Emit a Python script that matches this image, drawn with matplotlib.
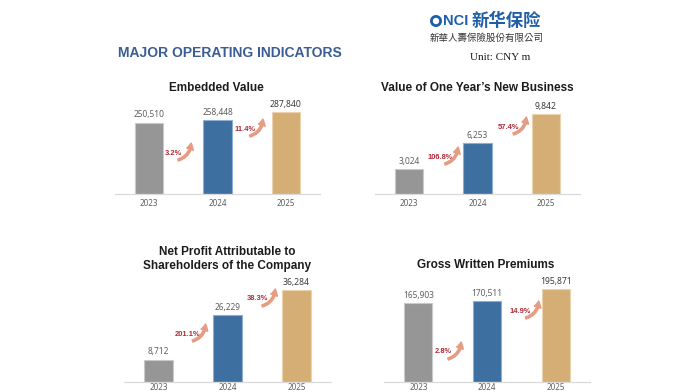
import matplotlib
matplotlib.use("Agg")
import matplotlib.pyplot as plt
from matplotlib.transforms import offset_copy, IdentityTransform
from matplotlib.patches import Circle

# ---------------- data ----------------
years = ["2023", "2024", "2025"]
titles = ["Embedded Value",
          "Value of One Year\u2019s New Business",
          "Net Profit Attributable to\nShareholders of the Company",
          "Gross Written Premiums"]
embedded_value = [250510, 258448, 287840]
vonb = [3024, 6253, 9842]
net_profit = [8712, 26229, 36284]
gwp = [165903, 170511, 195871]
growth_ev = ["3.2%", "11.4%"]
growth_vonb = ["106.8%", "57.4%"]
growth_np = ["201.1%", "38.3%"]
growth_gwp = ["2.8%", "14.9%"]

header = "MAJOR OPERATING INDICATORS"
unit_text = "Unit: CNY m"

# ---------------- layout / style ----------------
W, H = 698, 392
fig = plt.figure(figsize=(W / 100, H / 100), dpi=100)
fig.patch.set_facecolor("white")

def fx(px):
    return px / W

def fy(py):
    return 1 - py / H

bar_colors = ["#969696", "#3D6FA1", "#D4AE74"]
edge_colors = ["#C9C9C9", "#8DAFD0", "#EAD3AE"]
growth_color = "#B02A36"
arrow_color = "#E59C83"
label_font = ["Noto Sans", "DejaVu Sans"]
title_font = ["Liberation Sans", "DejaVu Sans"]

# panel: (values, growth labels, title, left px, right px, baseline px, px of tallest bar,
#         title center (px), growth label positions in (data x, data y), tick pad)
panels = [
    (embedded_value, growth_ev, titles[0], 115, 320, 194, 82, (216, 88),
     [(0.35, 143900), (1.40, 228000)], 3.5),
    (vonb, growth_vonb, titles[1], 375, 580, 194, 80, (477, 88),
     [(0.45, 4550), (1.45, 8240)], 3.5),
    (net_profit, growth_np, titles[2], 124, 331, 382, 92, (227, 259),
     [(0.42, 18930), (1.43, 32740)], 0.8),
    (gwp, growth_gwp, titles[3], 384, 590, 382, 93, (486, 265),
     [(0.36, 63200), (1.49, 149500)], 0.8),
]

axes_height_px = 105

for vals, growths, title, left, right, base, maxpx, tpos, gpos, tpad in panels:
    ax = fig.add_axes([fx(left), fy(base), (right - left) / W, axes_height_px / H])
    scale = max(vals) / maxpx
    ax.set_ylim(0, axes_height_px * scale)
    ax.set_xlim(-0.5, 2.5)
    x = list(range(len(years)))
    ax.bar(x, vals, width=0.41, color=bar_colors, edgecolor=edge_colors,
           linewidth=0.8, zorder=2)
    for i, v in enumerate(vals):
        last = i == len(vals) - 1
        ax.annotate(f"{v:,}", xy=(i, v), xytext=(0, 2.5), textcoords="offset points",
                    ha="center", va="bottom", fontsize=6.2 if last else 6,
                    fontweight="bold" if last else "normal",
                    color="#3A3A3A" if last else "#5E5E5E", family=label_font)
    ax.set_xticks(x)
    ax.set_xticklabels(years, fontsize=5.8, color="#5E5E5E", family=label_font)
    ax.tick_params(axis="x", length=0, pad=tpad)
    ax.set_yticks([])
    for s in ["top", "right", "left"]:
        ax.spines[s].set_visible(False)
    ax.spines["bottom"].set_color("#DADADA")
    ax.spines["bottom"].set_linewidth(0.9)
    ax.patch.set_alpha(0)

    for g, (gx, gy) in zip(growths, gpos):
        ax.text(gx, gy, g, ha="center", va="center", fontsize=5.4,
                fontweight="bold", color=growth_color, family=title_font)
        ax.annotate("", xy=(gx, gy),
                    xycoords=offset_copy(ax.transData, fig=fig, x=18, y=10, units="dots"),
                    xytext=(gx, gy),
                    textcoords=offset_copy(ax.transData, fig=fig, x=5, y=-7, units="dots"),
                    arrowprops=dict(arrowstyle="simple,head_width=0.5,head_length=0.45,tail_width=0.16",
                                    connectionstyle="arc3,rad=0.35", color=arrow_color,
                                    shrinkA=0, shrinkB=0, mutation_scale=10))

    fig.text(fx(tpos[0]), fy(tpos[1]), title, ha="center", va="center",
             fontsize=8.5, fontweight="bold", color="#1C1C1C", family=title_font,
             linespacing=1.3)

# header
fig.text(fx(118), fy(53), header, ha="left", va="center", fontsize=10,
         fontweight="bold", color="#3B5D95",
         family=["Liberation Sans Narrow", "Liberation Sans", "DejaVu Sans"])

# logo
logo_blue = "#1F5EA8"
fig.patches.append(Circle((436, H - 21), 4.6, transform=IdentityTransform(),
                          fill=False, edgecolor=logo_blue, linewidth=2.0))
fig.text(fx(443), fy(21), "NCI", ha="left", va="center", fontsize=10.5,
         fontweight="bold", color=logo_blue, family=title_font)
fig.text(fx(472), fy(21), "新华保险", ha="left", va="center", fontsize=12.5,
         fontweight="bold", color=logo_blue, family=["Noto Sans CJK SC", "DejaVu Sans"])
fig.text(fx(430), fy(38), "新華人壽保險股份有限公司", ha="left", va="center",
         fontsize=6.8, color="#333333", family=["Noto Sans CJK TC", "DejaVu Sans"])
fig.text(fx(470), fy(57), unit_text, ha="left", va="center", fontsize=8,
         color="#1A1A1A", family=["Liberation Serif", "DejaVu Serif"])

fig.savefig("out.png", dpi=100, facecolor="white")
